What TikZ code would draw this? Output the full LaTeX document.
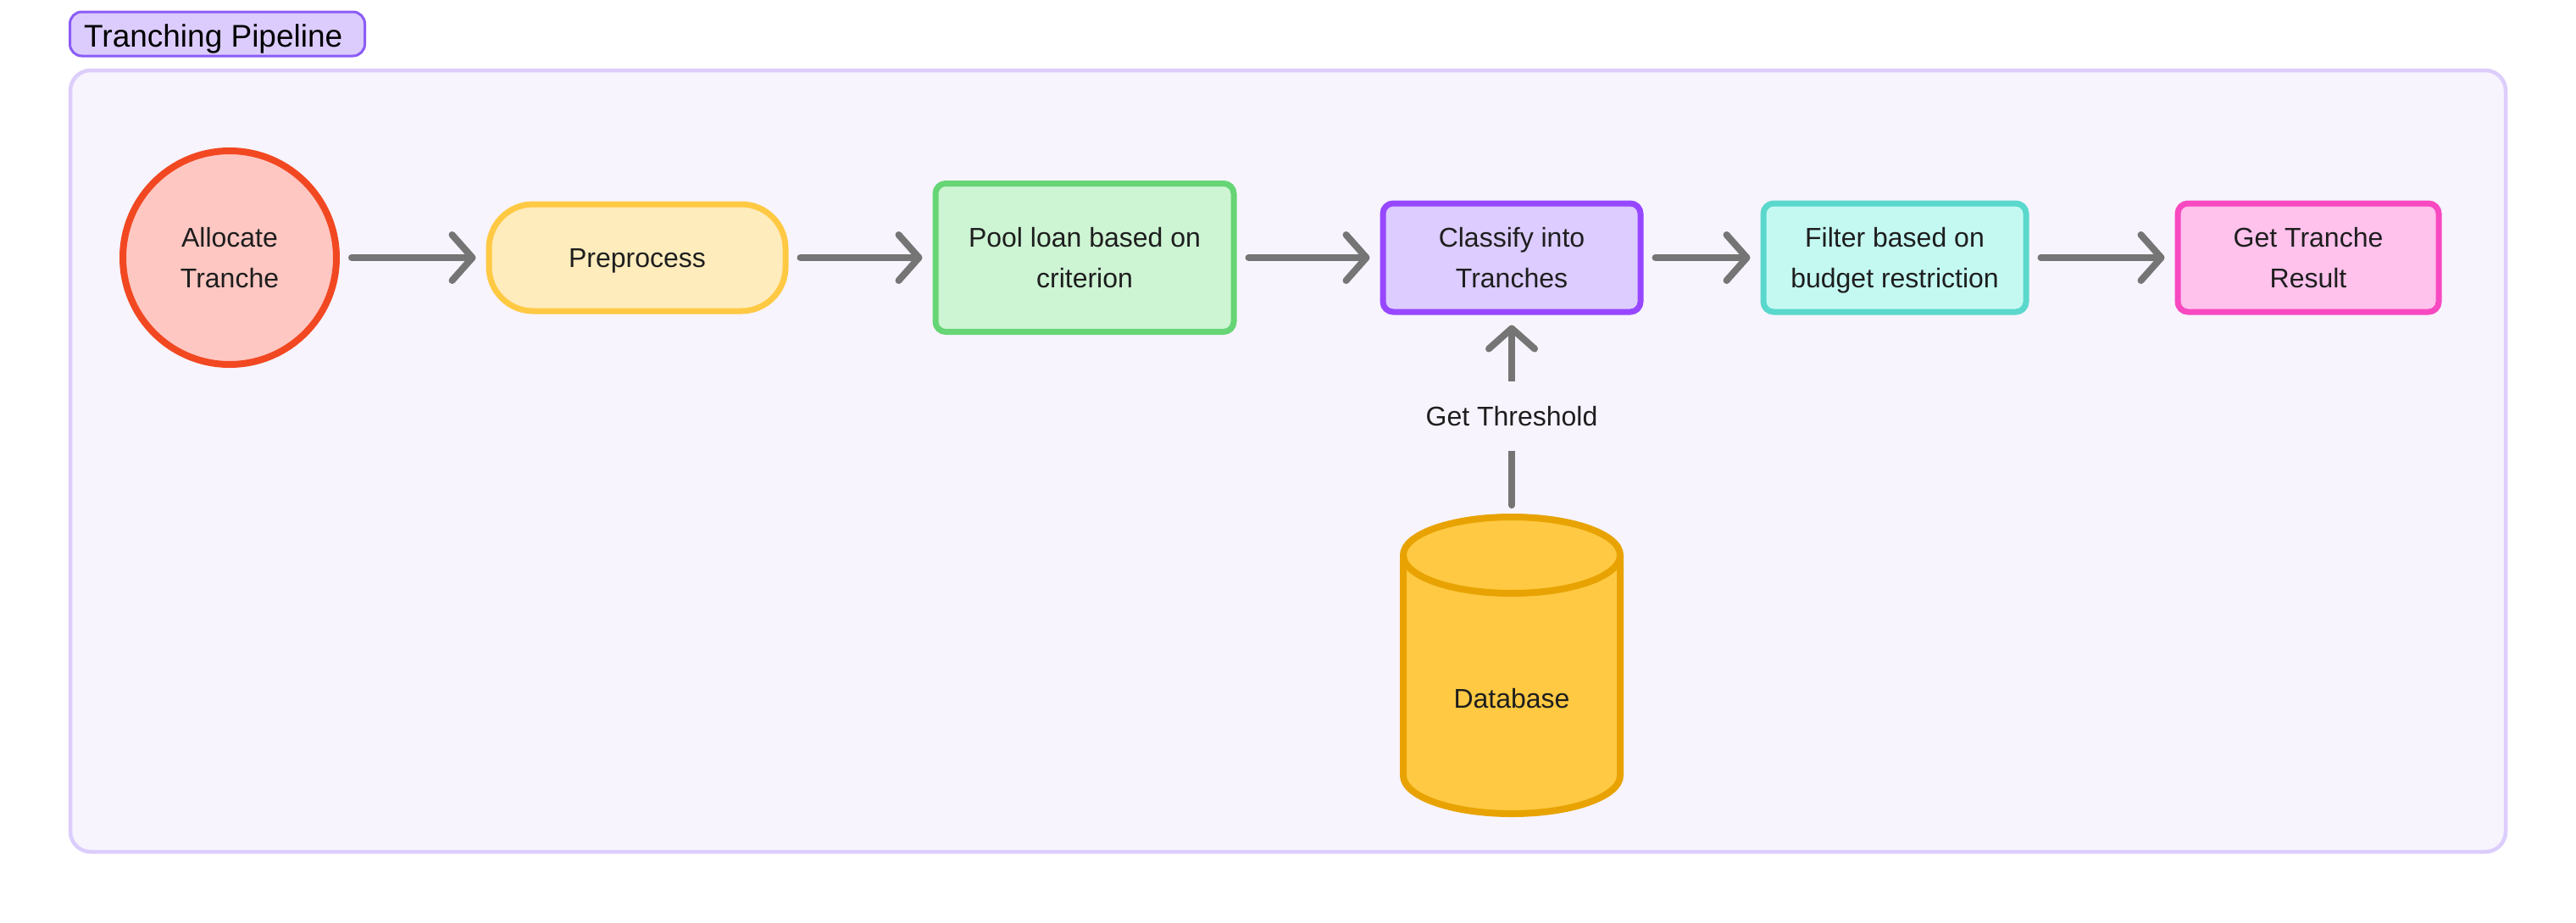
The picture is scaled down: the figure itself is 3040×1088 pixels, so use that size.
\documentclass[tikz,border=0pt]{standalone}
\usepackage{fontspec}
\setmainfont{Liberation Sans}
\usetikzlibrary{arrows.meta}
\definecolor{bgc}{HTML}{F7F4FE}
\definecolor{framec}{HTML}{DCCDFC}
\definecolor{titlefill}{HTML}{DCCCFD}
\definecolor{titledraw}{HTML}{8B5CF6}
\definecolor{redfill}{HTML}{FFC7C2}
\definecolor{reddraw}{HTML}{F24822}
\definecolor{yelfill}{HTML}{FFECBD}
\definecolor{yeldraw}{HTML}{FFC943}
\definecolor{grnfill}{HTML}{CDF4D3}
\definecolor{grndraw}{HTML}{66D575}
\definecolor{purfill}{HTML}{DCCCFF}
\definecolor{purdraw}{HTML}{9747FF}
\definecolor{cyanfill}{HTML}{C4F9F2}
\definecolor{cyandraw}{HTML}{5AD8CC}
\definecolor{pinkfill}{HTML}{FFC2EC}
\definecolor{pinkdraw}{HTML}{F849C1}
\definecolor{dbfill}{HTML}{FFC943}
\definecolor{dbdraw}{HTML}{E8A302}
\definecolor{arrowc}{HTML}{757575}
\definecolor{txt}{HTML}{1E1E1E}
\tikzset{
  lbl/.style={font=\fontsize{32}{48}\selectfont, text=txt, align=center, text depth=0pt},
  procbox/.style={lbl, draw, line width=7pt, rounded corners=12pt, inner sep=0pt},
  conn/.style={draw=arrowc, line width=8pt, line cap=round,
    -{Straight Barb[length=24pt,width=54pt,round]},
    shorten <=14pt, shorten >=12pt},
}
\begin{document}
\begin{tikzpicture}[x=1pt,y=1pt]
\useasboundingbox (0,0) rectangle (3040,-1088);
\fill[white] (0,0) rectangle (3040,-1088);
% frame
\draw[fill=bgc, draw=framec, line width=4.5pt, rounded corners=24pt] (83,-83) rectangle (2957,-1005);
% title
\node[draw=titledraw, fill=titlefill, line width=3pt, rounded corners=14pt,
  minimum width=348pt, minimum height=52pt, inner sep=0pt] (title) at (256.5,-40) {};
\node[anchor=base west, font=\fontsize{37}{44}\selectfont, text=black, inner sep=0pt] (titletext) at (99,-55) {Tranching Pipeline};
% nodes
\node[lbl, circle, draw=reddraw, fill=redfill, line width=8pt, minimum size=252pt, inner sep=0pt] (alloc) at (271,-304) {Allocate\\Tranche};
\node[procbox, draw=yeldraw, fill=yelfill, rounded corners=52pt, minimum width=350pt, minimum height=126pt] (pre) at (752,-304) {Preprocess};
\node[procbox, draw=grndraw, fill=grnfill, minimum width=352pt, minimum height=175pt] (pool) at (1280,-304) {Pool loan based on\\criterion};
\node[procbox, draw=purdraw, fill=purfill, minimum width=304pt, minimum height=128pt] (cls) at (1784,-304) {Classify into\\Tranches};
\node[procbox, draw=cyandraw, fill=cyanfill, minimum width=310pt, minimum height=128pt] (filt) at (2236,-304) {Filter based on\\budget restriction};
\node[procbox, draw=pinkdraw, fill=pinkfill, minimum width=308pt, minimum height=128pt] (res) at (2724,-304) {Get Tranche\\Result};
% database cylinder
\filldraw[fill=dbfill, draw=dbdraw, line width=8pt]
  (1656,-655) -- (1656,-915) arc[start angle=180, end angle=360, x radius=128, y radius=45]
  -- (1912,-655) arc[start angle=0, end angle=180, x radius=128, y radius=45] -- cycle;
\draw[draw=dbdraw, line width=8pt] (1656,-655) arc[start angle=180, end angle=360, x radius=128, y radius=45];
\coordinate (dbtop) at (1784,-610);
\node[lbl] (db) at (1784,-824) {Database};
% connectors
\draw[conn] (alloc) -- (pre);
\draw[conn] (pre) -- (pool);
\draw[conn] (pool) -- (cls);
\draw[conn] (cls) -- (filt);
\draw[conn] (filt) -- (res);
\draw[conn] (dbtop) -- node[lbl, fill=bgc, minimum height=82pt, inner xsep=6pt] (thr) {Get Threshold} (cls.south);
\end{tikzpicture}
\end{document}
